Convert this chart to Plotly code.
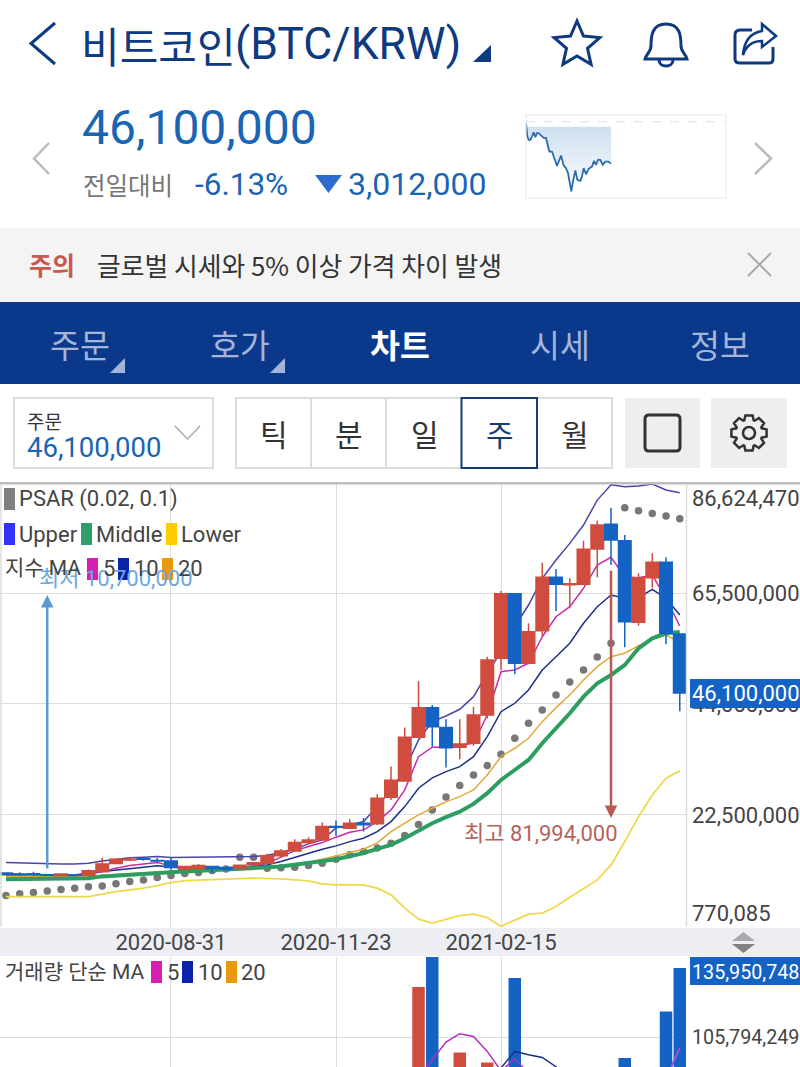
import math
import plotly.graph_objects as go

# weekly candles, values in million KRW
weeks = ["2020-06-08","2020-06-15","2020-06-22","2020-06-29","2020-07-06","2020-07-13","2020-07-20","2020-07-27",
         "2020-08-03","2020-08-10","2020-08-17","2020-08-24","2020-08-31","2020-09-07","2020-09-14","2020-09-21",
         "2020-09-28","2020-10-05","2020-10-12","2020-10-19","2020-10-26","2020-11-02","2020-11-09","2020-11-16",
         "2020-11-23","2020-11-30","2020-12-07","2020-12-14","2020-12-21","2020-12-28","2021-01-04","2021-01-11",
         "2021-01-18","2021-01-25","2021-02-01","2021-02-08","2021-02-15","2021-02-22","2021-03-01","2021-03-08",
         "2021-03-15","2021-03-22","2021-03-29","2021-04-05","2021-04-12","2021-04-19","2021-04-26","2021-05-03",
         "2021-05-10","2021-05-17"]
opens = [11.25,10.95,11.1,10.9,10.75,10.85,10.8,11.5,13.1,13.75,14.0,13.65,
         13.58,11.9,12.1,12.5,12.3,12.2,12.9,13.14,14.56,15.52,17.13,17.65,
         20.23,19.92,20.9,20.76,25.92,29.08,37.54,43.28,39.41,35.61,36.38,41.86,
         52.86,65.36,51.88,58.19,68.54,67.1,67.18,74.02,78.8,75.63,59.82,68.46,71.44,57.55]
closes = [10.9,10.9,11.0,10.8,11.05,10.8,11.65,12.98,13.9,13.9,13.9,13.55,
          12.28,12.5,12.7,12.1,11.95,12.75,13.2,14.56,15.52,17.13,17.65,20.23,
          20.1,20.88,20.6,25.72,29.2,37.54,43.28,39.6,35.53,36.25,41.86,52.52,
          65.36,51.88,58.0,68.54,67.18,67.3,73.96,78.67,75.76,59.94,68.46,71.44,57.69,46.1]
highs = [11.4,11.4,11.5,11.0,11.1,10.95,11.9,14.2,14.1,14.3,14.3,14.15,
         14.17,12.6,13.0,12.6,12.4,12.8,13.3,14.96,15.91,17.79,18.17,21.0,
         21.39,21.66,21.91,26.56,31.86,39.41,48.46,43.8,41.03,41.03,43.47,53.16,
         65.88,65.4,59.63,71.36,70.14,68.34,75.63,79.5,81.994,76.73,69.31,73.19,72.41,57.55]
lows = [10.8,10.7,10.7,10.7,10.75,10.75,10.7,11.4,13.1,13.5,13.6,13.3,
        11.7,11.8,12.0,11.3,11.8,12.1,12.7,12.96,14.16,15.36,16.87,17.6,
        18.46,19.9,19.26,20.56,25.4,28.9,37.5,35.72,31.66,33.28,35.92,41.22,
        50.58,49.74,51.69,57.03,62.01,62.53,67.18,68.54,70.92,54.98,59.16,66.52,55.56,42.6]

psar = [6.86,7.19,7.44,7.77,8.03,8.30,8.55,8.74,9.13,9.57,9.90,10.35,
        10.74,11.13,11.32,11.70,12.03,14.30,14.30,12.17,12.23,12.36,12.67,13.14,
        13.91,14.75,15.39,16.06,17.01,18.49,20.62,23.46,25.98,28.17,30.24,32.06,
        34.26,37.36,40.26,42.83,45.74,48.26,50.58,53.1,55.76,82.02,81.44,80.93,80.41,79.89]
upper = [13.26,13.16,13.06,13.0,13.0,13.0,13.14,13.58,13.91,14.17,14.3,14.42,
         14.22,14.26,14.3,14.36,14.42,14.42,14.42,14.69,15.19,15.91,16.88,17.66,
         19.98,20.56,21.2,24.1,27.34,31.21,37.02,40.57,41.67,42.97,45.41,49.94,
         54.13,58.97,63.17,68.34,71.89,75.12,78.67,83.51,86.47,86.09,86.22,86.61,85.45,84.92]
middle = [10.04,10.04,10.04,10.04,10.08,10.14,10.23,10.58,10.78,10.91,11.07,11.22,
          11.4,11.55,11.71,11.78,11.84,12.0,12.17,12.33,12.48,12.81,13.14,13.53,
          13.91,14.49,15.08,15.91,16.68,17.98,19.45,20.89,22.05,23.13,24.63,26.7,
          29.27,31.21,33.15,36.38,39.29,42.19,45.41,48.0,49.61,51.55,54.78,56.72,57.69,57.94]
lower = [6.67,6.67,6.67,6.67,6.67,6.67,6.67,7.13,7.64,7.97,8.3,8.8,
         9.38,9.77,9.9,10.04,10.09,10.16,10.23,10.19,10.09,9.9,9.71,9.13,
         8.94,8.94,8.94,8.3,7.0,4.42,2.29,1.52,2.29,2.99,3.26,2.6,
         0.9,2.02,3.26,3.45,4.73,6.55,8.3,9.9,12.81,17.32,22.16,26.37,29.6,31.02]
ma5 = [10.87,10.87,10.87,10.78,10.78,10.87,11.32,11.51,12.17,12.67,13.0,13.26,
       12.62,12.29,12.09,12.03,12.17,12.29,12.62,13.14,14.3,15.58,16.36,17.13,
       18.18,19.14,19.59,21.2,23.46,27.34,33.79,35.61,35.61,36.05,36.38,41.86,
       50.25,50.58,51.88,57.03,60.9,62.84,66.41,70.92,72.41,68.65,68.46,68.98,64.47,59.1]
ma10 = [11.07,10.97,10.87,10.87,10.78,10.74,11.01,11.51,11.84,12.09,12.36,12.62,
        12.36,12.17,12.09,12.17,12.23,12.36,12.56,12.81,13.45,14.3,15.08,15.85,
        16.49,17.32,17.98,19.26,21.2,24.1,27.67,29.66,30.88,31.85,33.79,37.66,
        42.5,44.13,46.71,50.58,53.16,55.76,59.63,62.84,65.11,64.47,64.59,66.21,64.47,61.23]
ma20 = [10.5,10.5,10.5,10.5,10.5,10.5,10.6,10.78,10.95,11.12,11.25,11.38,
        11.5,11.75,11.88,11.98,12.03,12.09,12.23,12.36,12.62,12.94,13.26,13.91,
        14.55,15.27,15.85,17.07,19.26,20.89,22.49,23.79,25.01,26.04,27.34,30.24,
        33.79,35.41,37.35,40.57,43.28,45.74,48.64,51.22,53.16,53.82,55.29,56.59,57.36,56.0]

# volume pane, only the weeks that rise into the visible part of the pane
volume = {"2021-01-04": 127.65, "2021-01-11": 140.89, "2021-01-25": 99.07, "2021-02-08": 94.7,
          "2021-02-22": 131.58, "2021-04-19": 96.62, "2021-05-10": 116.98, "2021-05-17": 135.95}
vol_ma5_x = ["2021-01-04","2021-01-11","2021-01-18","2021-01-25","2021-02-01","2021-02-08","2021-02-15","2021-02-22","2021-03-01"]
vol_ma5 = [88.0,95.88,103.61,107.24,106.06,99.5,91.0,96.19,90.0]
vol_ma5b_x = ["2021-05-10","2021-05-17"]
vol_ma5b = [87.6,100.99]
vol_ma10_x = ["2021-02-08","2021-02-15","2021-02-22","2021-03-01","2021-03-08","2021-03-15","2021-03-22"]
vol_ma10 = [85.0,92.25,99.5,98.06,96.88,92.8,85.0]

# sparkline in the header, hours of the session and price in million KRW
spark_hours = [0,0.16,0.32,0.52,0.72,0.92,1.12,1.32,1.52,1.84,2.12,2.4,2.6,2.8,3.12,3.44,3.72,3.92,4.2,4.52,4.8,
               5.04,5.24,5.44,5.6,5.92,6.16,6.52,6.72,6.92,7.2,7.52,7.92,8.16,8.4,8.64,8.92,9.2,9.52,9.84,10.2]
spark_price = [48.99,48.04,47.8,47.8,48.04,48.35,47.99,48.28,48.28,48.08,47.94,47.94,47.32,46.96,46.96,46.48,45.93,
               46.24,46.67,45.96,45.77,45.41,44.81,44.09,44.69,45.6,44.93,44.86,45.17,45.77,45.33,45.72,45.88,46.29,
               46.0,46.36,46.36,46.0,46.24,46.24,46.1]
spark_top = [48.75] * len(spark_hours)
prev_close = 49.112

date_ticks = ["2020-08-31", "2020-11-23", "2021-02-15"]
price_ticks = [65.5, 44.0, 22.5]
price_tick_text = ["65,500,000", "44,000,000", "22,500,000"]
vol_ticks = [105.794249]
vol_tick_text = ["105,794,249"]

NAVY = "#0e3a80"
BLUE = "#1a64b4"
TEXT = "#444444"
RED_UP = "#cf4c3e"
BLUE_DOWN = "#1463c4"
NUM = "Roboto"
KR = "Noto Sans CJK KR"
MIX = "Roboto, 'Noto Sans CJK KR'"
W, H = 800, 1067

x_range = ["2020-06-04 23:00", "2021-05-20 04:00"]
y_range = [0.770085, 86.62447]

fig = go.Figure()

# psar and the line studies sit under the candles
fig.add_trace(go.Scatter(x=weeks, y=psar, mode="markers", marker=dict(color="#777777", size=7.5)))
fig.add_trace(go.Scatter(x=weeks, y=upper, mode="lines", line=dict(color="#4a45a8", width=1.5)))
fig.add_trace(go.Scatter(x=weeks, y=lower, mode="lines", line=dict(color="#f0d84a", width=1.8)))
fig.add_trace(go.Scatter(x=weeks, y=ma20, mode="lines", line=dict(color="#e0a838", width=1.5)))
fig.add_trace(go.Scatter(x=weeks, y=ma10, mode="lines", line=dict(color="#1c2f85", width=1.5)))
fig.add_trace(go.Scatter(x=weeks, y=ma5, mode="lines", line=dict(color="#c82ca8", width=1.5)))
fig.add_trace(go.Scatter(x=weeks, y=middle, mode="lines", line=dict(color="#2e9e60", width=4)))

fig.add_trace(go.Candlestick(x=weeks, open=opens, high=highs, low=lows, close=closes,
                             xaxis="x2", yaxis="y2", whiskerwidth=0,
                             increasing=dict(line=dict(color=RED_UP, width=1.5), fillcolor=RED_UP),
                             decreasing=dict(line=dict(color=BLUE_DOWN, width=1.5), fillcolor=BLUE_DOWN)))

# volume
vol_x = list(volume.keys())
vol_y = list(volume.values())
vol_colors = [RED_UP if closes[weeks.index(d)] >= opens[weeks.index(d)] else BLUE_DOWN for d in vol_x]
fig.add_trace(go.Bar(x=vol_x, y=vol_y, marker=dict(color=vol_colors, line_width=0), xaxis="x3", yaxis="y3",
                     width=[12.5 / 13.75 * 7 * 86400000] * len(vol_x)))
fig.add_trace(go.Scatter(x=vol_ma10_x, y=vol_ma10, mode="lines", line=dict(color="#1c2f85", width=1.5), xaxis="x3", yaxis="y3"))
fig.add_trace(go.Scatter(x=vol_ma5_x, y=vol_ma5, mode="lines", line=dict(color="#b52cc0", width=1.5), xaxis="x3", yaxis="y3"))
fig.add_trace(go.Scatter(x=vol_ma5b_x, y=vol_ma5b, mode="lines", line=dict(color="#a050d8", width=2), xaxis="x3", yaxis="y3"))

# sparkline
fig.add_trace(go.Scatter(x=spark_hours, y=spark_top, mode="lines", line=dict(width=0), xaxis="x4", yaxis="y4"))
fig.add_trace(go.Scatter(x=spark_hours, y=spark_price, mode="lines", fill="tonexty",
                         fillgradient=dict(type="vertical",
                                           colorscale=[[0, "rgba(249,251,254,1)"], [1, "rgba(205,222,240,1)"]]),
                         line=dict(color="#2f6cae", width=1.8), xaxis="x4", yaxis="y4"))
fig.add_trace(go.Scatter(x=[0, 24], y=[prev_close, prev_close], mode="lines",
                         line=dict(color="#e4e4e4", width=1.2, dash="dash"), xaxis="x4", yaxis="y4"))

# empty pixel sized axes, all the app chrome is placed on these
fig.add_trace(go.Scatter(x=[0], y=[0], mode="markers", marker=dict(opacity=0), xaxis="x5", yaxis="y5"))

annotations = []
shapes = []


def label(x, y, s, size, color=TEXT, font=NUM, anchor="left"):
    annotations.append(dict(x=x, y=y, xref="x5", yref="y5", text=s, showarrow=False, xanchor=anchor, yanchor="middle",
                            borderpad=0, borderwidth=0, font=dict(family=font, size=size, color=color)))


def box(x0, y0, x1, y1, fill=None, line=None, width=1):
    shapes.append(dict(type="rect", xref="x5", yref="y5", x0=x0, y0=y0, x1=x1, y1=y1, layer="above",
                       fillcolor=fill if fill else "rgba(0,0,0,0)",
                       line=dict(color=line if line else "rgba(0,0,0,0)", width=width if line else 0)))


def draw(d, color=None, width=2, fill=None):
    shapes.append(dict(type="path", xref="x5", yref="y5", path=d, layer="above",
                       fillcolor=fill if fill else "rgba(0,0,0,0)",
                       line=dict(color=color if color else "rgba(0,0,0,0)", width=width if color else 0)))


def star(cx, cy, outer, inner):
    pts = []
    for i in range(10):
        r = outer if i % 2 == 0 else inner
        a = -math.pi / 2 + i * math.pi / 5
        pts.append(f"{cx + r * math.cos(a):.1f} {cy + r * math.sin(a):.1f}")
    return "M " + " L ".join(pts) + " Z"


def gear(cx, cy, outer, inner, teeth=8):
    pts = []
    step = 2 * math.pi / teeth
    for i in range(teeth):
        a = i * step
        for da, r in [(-0.30, inner), (-0.17, outer), (0.17, outer), (0.30, inner)]:
            pts.append(f"{cx + r * math.cos(a + da * step * 1.5):.1f} {cy + r * math.sin(a + da * step * 1.5):.1f}")
    return "M " + " L ".join(pts) + " Z"


# header
draw("M 55 23 L 31 43.5 L 55 64", NAVY, 3)
label(81, 44, "비트코인", 42, NAVY, KR)
label(235, 44, "(BTC/KRW)", 44.5, NAVY, NUM)
draw("M 491 45 L 491 62 L 473 62 Z", fill=NAVY)
draw(star(577, 45, 24, 11), NAVY, 3)
draw("M 666 24 C 652 24 651 36 651 46 C 651 52 646 54 645 59 L 687 59 C 686 54 681 52 681 46 C 681 36 680 24 666 24 Z", NAVY, 3)
draw("M 659 60 C 659 68 673 68 673 60", NAVY, 3)
draw("M 752 30 L 740 30 Q 735 30 735 35 L 735 59 Q 735 63 740 63 L 769 63 Q 773 63 773 59 L 773 47", NAVY, 3)
draw("M 762 24 L 776 36 L 762 47 L 762 41 C 752 41 746 46 743 55 C 744 42 750 33 762 31 Z", NAVY, 2.5)

label(82, 127, "46,100,000", 48, BLUE)
label(83, 184, "전일대비", 24.5, "#777777", KR)
label(195, 184, "-6.13%", 31.5, BLUE)
draw("M 315 175 L 342 175 L 328.5 193 Z", fill="#2e6bce")
label(348, 184, "3,012,000", 32, BLUE)
draw("M 49 143 L 34 158.5 L 49 174", "#bbbbbb", 2.5)
draw("M 755 143 L 771 158.5 L 755 174", "#bbbbbb", 2.5)
box(526, 115, 726, 198, None, "#e8e8e8", 1)

# notice strip and tab bar
box(0, 228, W, 302, "#f4f4f4")
label(29, 264, "<b>주의</b>", 25, "#c8584e", KR)
label(97, 264, "글로벌 시세와 5% 이상 가격 차이 발생", 25.8, "#333333", KR)
draw("M 748 253 L 771 276 M 771 253 L 748 276", "#aaaaaa", 2)
box(0, 302, W, 384, "#0a398c")
for cx, s in [(80, "주문"), (240, "호가"), (560, "시세"), (720, "정보")]:
    label(cx, 343, s, 32.5, "#a3b5d9", KR, "center")
label(400, 343, "<b>차트</b>", 32.5, "#ffffff", KR, "center")
draw("M 125 358 L 125 373 L 110 373 Z", fill="#a3b5d9")
draw("M 285 358 L 285 373 L 270 373 Z", fill="#a3b5d9")

# toolbar
box(14, 398, 213, 468, None, "#dddddd", 2)
label(27, 420, "주문", 19, "#333333", KR)
label(27, 447, "46,100,000", 27.5, BLUE)
draw("M 175 426 L 187.5 439 L 200 426", "#aaaaaa", 1.5)
box(236, 398, 612, 468, None, "#dddddd", 2)
for x in [311, 386, 537]:
    draw(f"M {x} 398 L {x} 468", "#dddddd", 2)
box(461.5, 398, 537, 468, None, "#143f70", 2)
for cx, s in [(274, "틱"), (349, "분"), (425, "일"), (575, "월")]:
    label(cx, 433, s, 30, "#333333", KR, "center")
label(500, 433, "주", 30, "#143f70", KR, "center")
box(625, 398, 700, 468, "#eeeeee")
shapes.append(dict(type="path", xref="x5", yref="y5", layer="above", line=dict(color="#333333", width=3),
                   path="M 649 415 L 676 415 Q 680 415 680 419 L 680 447 Q 680 451 676 451 L 649 451 Q 645 451 645 447 L 645 419 Q 645 415 649 415 Z"))
box(711, 398, 787, 468, "#eeeeee")
draw(gear(749, 433, 18, 13.5), "#333333", 2.5)
shapes.append(dict(type="circle", xref="x5", yref="y5", x0=743, y0=427, x1=755, y1=439, layer="above",
                   line=dict(color="#333333", width=2.5)))

# frame of the price pane
box(0, 482, W, 484.5, "#bdbdbd")
draw("M 686.5 484 L 686.5 927", "#dddddd", 1.5)
draw("M 1 484 L 1 927", "#dddddd", 1.5)

# axis end labels and price boxes
label(692, 498, "86,624,470", 22)
label(692, 913, "770,085", 22)
box(690, 679, W, 708, "#1463c4")
label(692, 693, "46,100,000", 22, "#ffffff")
box(690, 957, W, 985, "#1463c4")
label(692, 972, "135,950,748", 19.7, "#ffffff")
draw("M 743.5 932 L 755 941 L 732 941 Z", fill="#a8a8a8")
draw("M 732 944 L 755 944 L 743.5 953 Z", fill="#808080")

# high and low markers
annotations.append(dict(x=weeks[3], y=65.1, ax=weeks[3], ay=11.84, xref="x", yref="y", axref="x", ayref="y", text="",
                        showarrow=True, arrowhead=2, arrowsize=1, arrowwidth=2.5, arrowcolor="#5b9bd5"))
annotations.append(dict(x=weeks[44], y=21.9, ax=weeks[44], ay=70.1, xref="x", yref="y", axref="x", ayref="y", text="",
                        showarrow=True, arrowhead=2, arrowsize=1, arrowwidth=2.5, arrowcolor="#b85a50"))
label(116, 578, "최저 10,700,000", 22, "#6fa8dc", MIX, "center")
label(541, 833, "최고 81,994,000", 22, "#b5635a", MIX, "center")

# legends
box(4, 488, 15, 510, "#808080")
label(19, 499, "PSAR (0.02, 0.1)", 22)
box(4, 523, 15, 545, "#3333ff")
label(19, 534, "Upper", 22)
box(81, 523, 92, 545, "#2e9e6b")
label(96, 534, "Middle", 22)
box(166, 523, 177, 545, "#ffcc00")
label(181, 534, "Lower", 22)
label(5, 568, "지수 MA", 21, TEXT, MIX)
box(87, 558, 98, 580, "#d61fb4")
label(103, 568, "5", 22)
box(118, 558, 129, 580, "#0a22a8")
label(134, 568, "10", 22)
box(162, 558, 173, 580, "#e89a0c")
label(178, 568, "20", 22)

label(5, 972, "거래량 단순 MA", 21, TEXT, MIX)
box(151, 961, 162, 983, "#d61fb4")
label(167, 972, "5", 22)
box(182, 961, 193, 983, "#0a22a8")
label(198, 972, "10", 22)
box(226, 961, 237, 983, "#e89a0c")
label(241, 972, "20", 22)

# date strip behind the x tick labels, paper refs so it stays under them
shapes.insert(0, dict(type="rect", xref="paper", yref="paper", x0=0, x1=1, y0=1 - 956 / H, y1=1 - 928 / H,
                      layer="below", fillcolor="#eceef3", line_width=0))

grid = "#dddddd"
tick_font = dict(family=NUM, size=22, color=TEXT)
main_x = [0, 686 / W]
main_y = [1 - 927 / H, 1 - 484 / H]

fig.update_layout(
    width=W, height=H, autosize=False, margin=dict(l=0, r=0, t=0, b=0), showlegend=False, hovermode=False,
    paper_bgcolor="white", plot_bgcolor="rgba(0,0,0,0)", boxgap=0.09, boxgroupgap=0,
    annotations=annotations, shapes=shapes,
    xaxis=dict(domain=main_x, range=x_range, type="date", tickmode="array", tickvals=date_ticks, tickformat="%Y-%m-%d",
               tickfont=tick_font, showgrid=True, gridcolor=grid, gridwidth=1.2, ticks="", zeroline=False,
               rangeslider=dict(visible=False), anchor="y", automargin=False),
    yaxis=dict(domain=main_y, range=y_range, side="right", tickmode="array", tickvals=price_ticks, ticktext=price_tick_text,
               tickfont=tick_font, showgrid=True, gridcolor=grid, gridwidth=1.2, ticks="", zeroline=False, anchor="x",
               ticklabelstandoff=5, automargin=False),
    xaxis2=dict(overlaying="x", range=x_range, type="date", visible=False, rangeslider=dict(visible=False), anchor="y2"),
    yaxis2=dict(overlaying="y", range=y_range, visible=False, anchor="x2"),
    xaxis3=dict(domain=main_x, range=x_range, type="date", tickmode="array", tickvals=date_ticks, showticklabels=False,
                showgrid=True, gridcolor=grid, gridwidth=1.2, ticks="", zeroline=False, anchor="y3", automargin=False),
    yaxis3=dict(domain=[0, 1 - 957 / H], range=[92.68, 140.76], side="right", tickmode="array", tickvals=vol_ticks,
                ticktext=vol_tick_text, tickfont=dict(family=NUM, size=19.7, color=TEXT), showgrid=True, gridcolor=grid,
                gridwidth=1.2, ticks="", zeroline=False, anchor="x3", ticklabelstandoff=5, automargin=False),
    xaxis4=dict(domain=[526 / W, 726 / W], range=[0, 24], visible=False, anchor="y4"),
    yaxis4=dict(domain=[1 - 198 / H, 1 - 115 / H], range=[43.62, 49.59], visible=False, anchor="x4"),
    xaxis5=dict(domain=[0, 1], range=[0, W], visible=False, anchor="y5"),
    yaxis5=dict(domain=[0, 1], range=[H, 0], visible=False, anchor="x5"),
)

fig.write_html("out.html", config=dict(displayModeBar=False),
               post_script="document.body.style.margin='0';document.documentElement.style.overflow='hidden';")
